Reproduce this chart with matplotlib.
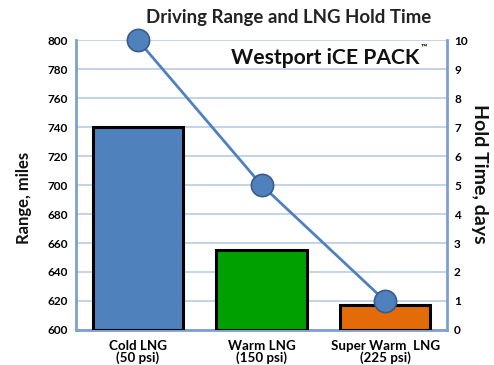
import matplotlib
matplotlib.use("Agg")
import matplotlib.pyplot as plt
import numpy as np

plt.rcParams['font.family'] = ['Lato', 'DejaVu Sans']

categories = ["Cold LNG\n(50 psi)", "Warm LNG\n(150 psi)", "Super Warm  LNG\n(225 psi)"]
range_miles = [740, 655, 617]
hold_days = [10, 5, 1]
bar_colors = ["#4f81bd", "#00a000", "#e36c09"]
left_ticks = list(range(600, 801, 20))
right_ticks = list(range(0, 11))

fig = plt.figure(figsize=(4.94, 3.65), dpi=100)
ax = fig.add_axes([0.154, 0.096, 0.751, 0.794])
x = np.arange(len(categories))

ax.bar(x, np.array(range_miles) - 600, bottom=600, width=0.73, color=bar_colors,
       edgecolor="black", linewidth=2.2, zorder=3)
ax.set_ylim(600, 800)
ax.set_xlim(-0.5, 2.5)
ax.set_yticks(left_ticks)
ax.set_yticklabels([str(t) for t in left_ticks], fontsize=8.5, fontweight="bold")
ax.set_xticks(x)
ax.set_xticklabels(categories, fontsize=9.6, fontweight="bold", linespacing=0.95)
ax.tick_params(axis="y", length=0, pad=6)
ax.tick_params(axis="x", length=0, pad=7)
ax.grid(axis="y", color="#b9cde5", linewidth=1.2, zorder=0)
ax.set_axisbelow(True)
for side in ["left", "right", "bottom"]:
    ax.spines[side].set_color("#7f9fcf")
    ax.spines[side].set_linewidth(2)
ax.spines["top"].set_visible(False)

ax2 = ax.twinx()
ax2.plot(x, hold_days, color="#4f81bd", linewidth=2, marker="o", markersize=16,
         markerfacecolor="#4f81bd", markeredgecolor="#385d8a", markeredgewidth=1.2,
         zorder=5, clip_on=False)
ax2.set_ylim(0, 10)
ax2.set_yticks(right_ticks)
ax2.set_yticklabels([str(t) for t in right_ticks], fontsize=8.5, fontweight="bold")
ax2.tick_params(axis="y", length=0, pad=5)
for side in ["left", "right", "bottom", "top"]:
    ax2.spines[side].set_visible(False)

# axis titles placed as figure text
fig.text(0.0486, 0.459, "Range, miles", rotation=90, ha="center", va="center",
         fontsize=12, fontweight="bold", color="#111111")
fig.text(0.9706, 0.523, "Hold Time, days", rotation=-90, ha="center", va="center",
         fontsize=14, fontweight="bold", color="#111111")

fig.text(0.585, 0.952, "Driving Range and LNG Hold Time", ha="center", va="center",
         fontsize=13.4, fontweight="bold", color="#222222")
ax.text(0.925, 0.94, "Westport iCE PACK", transform=ax.transAxes, ha="right",
        va="center", fontsize=15.2, fontweight="bold", color="#111111")
ax.text(0.928, 0.975, "\u2122", transform=ax.transAxes, ha="left",
        va="center", fontsize=6, fontweight="bold", color="#111111")

fig.savefig("out.png", dpi=100)
